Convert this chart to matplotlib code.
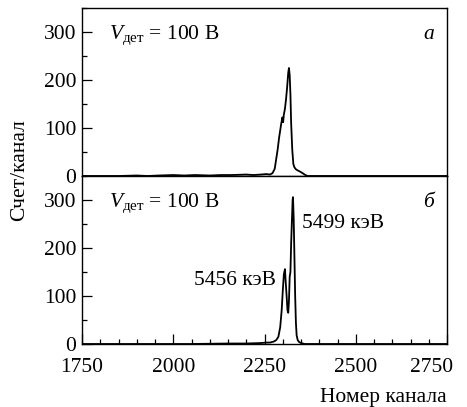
import matplotlib.pyplot as plt
from matplotlib.ticker import MultipleLocator
from matplotlib.transforms import ScaledTranslation

plt.rcParams['font.family'] = ['Liberation Serif', 'DejaVu Serif']
plt.rcParams['mathtext.fontset'] = 'custom'
plt.rcParams['mathtext.it'] = 'Liberation Serif:italic'
plt.rcParams['mathtext.rm'] = 'Liberation Serif'

# panel a: spectrum at V_det = 100 V
chan_a = [1750, 1850, 1900, 1930, 1960, 2000, 2030, 2060, 2100, 2130, 2160,
          2200, 2220, 2240, 2255, 2265, 2272, 2278, 2282, 2286, 2290, 2293,
          2296, 2299, 2301, 2303, 2306, 2309, 2312, 2315, 2317, 2319, 2321,
          2323, 2326, 2329, 2332, 2336, 2340, 2345, 2350, 2356, 2362, 2368,
          2400, 2600, 2750]
counts_a = [0, 0, 1, 0, 1, 2, 1, 2, 1, 2, 2,
            3, 2, 3, 4, 3, 6, 15, 35, 55, 80, 95,
            110, 122, 112, 128, 140, 160, 185, 215, 225, 210, 170,
            110, 55, 25, 18, 14, 12, 10, 8, 5, 2, 0,
            0, 0, 0]

# panel b
chan_b = [1750, 1850, 1950, 2050, 2150, 2200, 2240, 2255, 2265, 2275, 2282,
          2288, 2293, 2297, 2300, 2303, 2306, 2308, 2311, 2313, 2315, 2317,
          2319, 2321, 2323, 2325, 2327, 2328, 2330, 2332, 2334, 2336, 2338,
          2341, 2345, 2350, 2360, 2400, 2600, 2750]
counts_b = [0, 0, 0, 0, 1, 1, 2, 3, 3, 5, 8,
            15, 35, 70, 110, 145, 156, 130, 95, 70, 65, 90,
            140, 150, 210, 255, 300, 306, 260, 180, 100, 45, 18,
            8, 4, 2, 0, 0, 0, 0]

label_a = '$V_{\\mathrm{дет}}$ = 100 В'
label_b = '$V_{\\mathrm{дет}}$ = 100 В'
peak_labels = ['5456 кэВ', '5499 кэВ']

fig = plt.figure(figsize=(4.67, 4.07), dpi=100)
ax_a = fig.add_axes([0.1756, 0.5676, 0.7816, 0.4128])
ax_b = fig.add_axes([0.1756, 0.1548, 0.7816, 0.4128])

fs = 15.5
for ax in (ax_a, ax_b):
    ax.set_xlim(1750, 2750)
    ax.set_ylim(0, 350)
    ax.yaxis.set_major_locator(MultipleLocator(100))
    ax.yaxis.set_minor_locator(MultipleLocator(50))
    ax.xaxis.set_major_locator(MultipleLocator(250))
    ax.xaxis.set_minor_locator(MultipleLocator(50))
    ax.tick_params(which='both', direction='in', labelsize=fs,
                   top=False, right=False)
    ax.tick_params(which='major', length=7, width=0.9)
    ax.tick_params(which='minor', length=3.5, width=0.9)
    ax.tick_params(axis='y', pad=4)
    ax.tick_params(axis='x', pad=10)
    for s in ax.spines.values():
        s.set_linewidth(1.0)

ax_a.plot(chan_a, counts_a, color='black', lw=1.3)
ax_b.plot(chan_b, counts_b, color='black', lw=1.3)

ax_a.tick_params(axis='x', which='both', bottom=False, labelbottom=False)
ax_a.set_yticks([0, 100, 200, 300])
ax_b.set_yticks([0, 100, 200, 300])
ax_b.set_xticks([1750, 2000, 2250, 2500, 2750])

# last x label sits pulled in from the edge, as in the original
last = ax_b.get_xticklabels()[-1]
last.set_transform(last.get_transform() +
                   ScaledTranslation(-0.15, 0, fig.dpi_scale_trans))

ax_a.text(0.075, 0.84, label_a, transform=ax_a.transAxes, fontsize=fs, va='center')
ax_a.text(0.935, 0.84, 'а', transform=ax_a.transAxes, fontsize=fs,
          style='italic', va='center')
ax_b.text(0.075, 0.84, label_b, transform=ax_b.transAxes, fontsize=fs, va='center')
ax_b.text(0.935, 0.84, 'б', transform=ax_b.transAxes, fontsize=fs,
          style='italic', va='center')
ax_b.text(2281, 133, peak_labels[0], fontsize=fs, ha='right', va='center')
ax_b.text(2352, 250, peak_labels[1], fontsize=fs, ha='left', va='center')

ax_b.set_xlabel('Номер канала', fontsize=fs, loc='right', labelpad=8)
fig.text(0.043, 0.582, 'Счет/канал', rotation=90, fontsize=fs,
         ha='center', va='center')

fig.savefig('out.png', dpi=100)
